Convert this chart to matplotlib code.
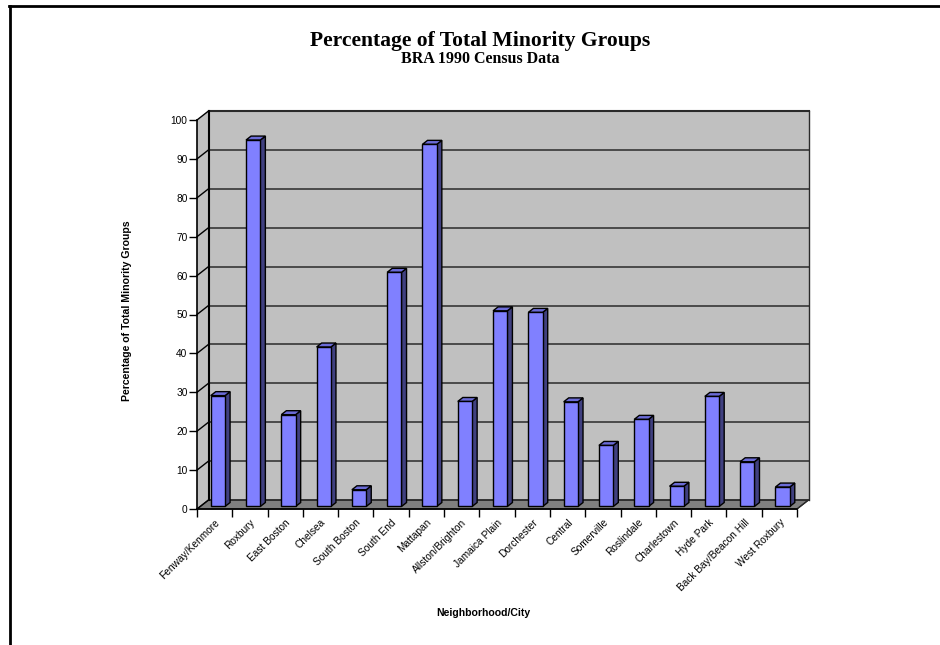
import matplotlib
matplotlib.use("Agg")
import matplotlib.pyplot as plt
from matplotlib.patches import Polygon, Rectangle
from matplotlib.lines import Line2D

# BRA 1990 census, share of minority groups by neighborhood (%)
neighborhoods = [
    "Fenway/Kenmore", "Roxbury", "East Boston", "Chelsea", "South Boston",
    "South End", "Mattapan", "Allston/Brighton", "Jamaica Plain", "Dorchester",
    "Central", "Somerville", "Roslindale", "Charlestown", "Hyde Park",
    "Back Bay/Beacon Hill", "West Roxbury",
]
minority_pct = [28.5, 94.2, 23.6, 41.0, 4.3, 60.2, 93.1, 27.0, 50.3, 49.9,
                26.9, 15.7, 22.4, 5.2, 28.3, 11.5, 5.0]
y_ticks = list(range(0, 101, 10))

W, H = 940, 645
fig = plt.figure(figsize=(W / 100, H / 100), dpi=100)
fig.patch.set_facecolor("white")

# front plane of the chart in pixels
left_px, right_px, zero_px, top_px = 197, 797, 509, 120
ax = fig.add_axes([left_px / W, (H - zero_px) / H,
                   (right_px - left_px) / W, (zero_px - top_px) / H])
n = len(neighborhoods)
ax.set_xlim(0, n)
ax.set_ylim(0, 100)
ax.set_facecolor("none")

# depth of the pseudo-3D box, converted from pixels to data units
depth_px = (11.5, 9.0)
ux = n / (right_px - left_px)
uy = 100 / (zero_px - top_px)
ddx, ddy = depth_px[0] * ux, depth_px[1] * uy

wall = "#c0c0c0"
floor = "#808080"
grid_col = "#2a2a2a"

def shift(x, y, f):
    return (x + f * ddx, y + f * ddy)

# back wall
ax.add_patch(Polygon([shift(0, 0, 1), shift(n, 0, 1), shift(n, 100, 1), shift(0, 100, 1)],
                     closed=True, facecolor=wall, edgecolor="none", clip_on=False, zorder=1))
# side wall
ax.add_patch(Polygon([(0, 0), shift(0, 0, 1), shift(0, 100, 1), (0, 100)],
                     closed=True, facecolor=wall, edgecolor="none", clip_on=False, zorder=1))
# floor
ax.add_patch(Polygon([(0, 0), (n, 0), shift(n, 0, 1), shift(0, 0, 1)],
                     closed=True, facecolor=floor, edgecolor="#202020", lw=0.9,
                     clip_on=False, zorder=2))

for v in y_ticks:
    xs, ys = zip(shift(0, v, 1), shift(n, v, 1))
    lw = 1.5 if v == 100 else 1.1
    ax.plot(xs, ys, color=grid_col, lw=lw, clip_on=False, zorder=2)
    xs, ys = zip((0, v), shift(0, v, 1))
    ax.plot(xs, ys, color="black", lw=1.0, clip_on=False, zorder=2)

# wall edges
xs, ys = zip(shift(0, 0, 1), shift(0, 100, 1))
ax.plot(xs, ys, color="black", lw=1.5, clip_on=False, zorder=2)
xs, ys = zip(shift(n, 0, 1), shift(n, 100, 1))
ax.plot(xs, ys, color=grid_col, lw=1.0, clip_on=False, zorder=2)
xs, ys = zip((n, 0), shift(n, 0, 1))
ax.plot(xs, ys, color=grid_col, lw=0.9, clip_on=False, zorder=2)

# bars
bar_w = 0.405
f0, f1 = 0.28, 0.72
front_c, side_c, top_c = "#8080ff", "#404080", "#6b6bd6"
for i, v in enumerate(minority_pct):
    xl = i + 0.5 - bar_w / 2
    xr = xl + bar_w
    side = [shift(xr, 0, f0), shift(xr, 0, f1), shift(xr, v, f1), shift(xr, v, f0)]
    top = [shift(xl, v, f0), shift(xr, v, f0), shift(xr, v, f1), shift(xl, v, f1)]
    ax.add_patch(Polygon(side, closed=True, facecolor=side_c, edgecolor="black",
                         lw=1.0, clip_on=False, zorder=3))
    ax.add_patch(Polygon(top, closed=True, facecolor=top_c, edgecolor="black",
                         lw=1.0, clip_on=False, zorder=3))
    fx, fy = shift(xl, 0, f0)
    ax.add_patch(Rectangle((fx, fy), bar_w, v, facecolor=front_c, edgecolor="black",
                           lw=1.0, clip_on=False, zorder=4))

# front axes
for s in ("top", "right"):
    ax.spines[s].set_visible(False)
for s in ("left", "bottom"):
    ax.spines[s].set_color("black")
    ax.spines[s].set_linewidth(1.2)
    ax.spines[s].set_zorder(5)

tick_font = dict(family="Liberation Sans", size=7.3)
ax.set_yticks(y_ticks)
ax.set_yticklabels([str(v) for v in y_ticks], fontdict=tick_font)
ax.tick_params(axis="y", direction="out", length=5.8, width=1.0, pad=1)

ax.set_xticks(range(n + 1))
ax.set_xticklabels([])
ax.set_xticks([i + 0.5 for i in range(n)], minor=True)
ax.set_xticklabels(neighborhoods, minor=True, rotation=45, ha="right",
                   rotation_mode="anchor", fontdict=tick_font)
ax.tick_params(axis="x", which="major", direction="out", length=5.8, width=1.0)
ax.tick_params(axis="x", which="minor", length=0, pad=6)

label_font = dict(family="Liberation Sans", size=7.6, weight="bold")
ax.text((127 - left_px) / (right_px - left_px), (zero_px - 311) / (zero_px - top_px),
        "Percentage of Total Minority Groups", rotation=90, ha="center", va="center",
        transform=ax.transAxes, fontdict=label_font)
ax.text((483 - left_px) / (right_px - left_px), (zero_px - 613) / (zero_px - top_px),
        "Neighborhood/City", ha="center", va="center",
        transform=ax.transAxes, fontdict=label_font)

fig.text(480 / W, 1 - 41 / H, "Percentage of Total Minority Groups",
         ha="center", va="center", family="Liberation Serif", weight="bold", size=15.6)
fig.text(480 / W, 1 - 59 / H, "BRA 1990 Census Data",
         ha="center", va="center", family="Liberation Serif", weight="bold", size=11.5)

# outer frame (left and top edges)
fig.add_artist(Line2D([9.5 / W, 9.5 / W], [0, 1 - 5.7 / H], color="black", lw=2,
                      transform=fig.transFigure))
fig.add_artist(Line2D([8.5 / W, 1], [1 - 5.7 / H, 1 - 5.7 / H], color="black", lw=2,
                      transform=fig.transFigure))

fig.savefig("out.png", dpi=100)
